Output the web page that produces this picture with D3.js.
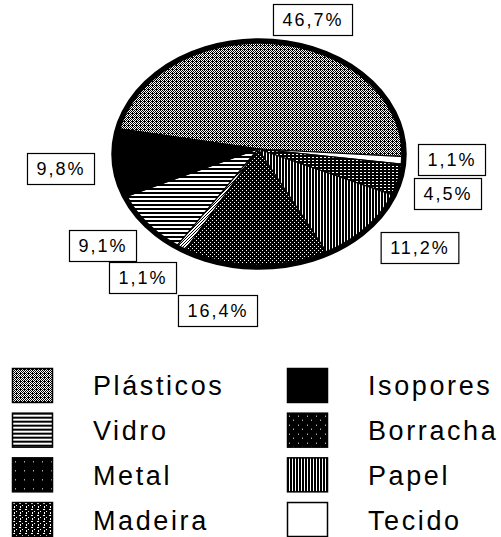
<!DOCTYPE html>
<html>
<head>
<meta charset="utf-8">
<script src="https://cdn.jsdelivr.net/npm/d3@7"></script>
<style>
  body { margin: 0; background: #fff; }
  text { font-family: "Liberation Sans", Arial, sans-serif; fill: #000; }
</style>
</head>
<body>
<svg id="chart" width="501" height="537"></svg>
<script>
// slices, clockwise from the left edge of the big top slice
var categories = ["Plásticos", "Tecido", "Metal", "Papel", "Borracha", "Madeira", "Vidro", "Isopores"];
var values = [46.7, 1.1, 4.5, 11.2, 16.4, 1.1, 9.1, 9.8];

// legend columns
var legendLeft = ["Plásticos", "Vidro", "Metal", "Madeira"];
var legendRight = ["Isopores", "Borracha", "Papel", "Tecido"];

// where each percentage box sits (centre), same order as categories
var labelPos = [[313, 20], [452, 160], [448, 194], [420, 248], [218, 311], [143, 278], [103, 246], [61, 169]];

var svg = d3.select("#chart");
var defs = svg.append("defs");

var cx = 259, cy = 154, rx = 145, ry = 113;
var apex = [258, 149];

// fill patterns (scanned b/w look)
function pattern(id, w, h, bg, fg, pix) {
    var p = defs.append("pattern")
        .attr("id", id)
        .attr("patternUnits", "userSpaceOnUse")
        .attr("width", w).attr("height", h);
    p.append("rect").attr("width", w).attr("height", h).attr("fill", bg);
    pix.forEach(function(d) {
        p.append("rect")
            .attr("x", d[0]).attr("y", d[1])
            .attr("width", d[2] || 1).attr("height", d[3] || 1)
            .attr("fill", fg);
    });
}
pattern("p-plasticos", 4, 4, "#fff", "#000", [[0,0],[2,0],[1,1],[3,1],[0,2],[2,2],[1,3],[3,3],[0,1]]);
pattern("p-vidro", 4, 4, "#fff", "#000", [[0,0,4,2]]);
pattern("p-papel", 3, 4, "#fff", "#000", [[0,0,2,4]]);
pattern("p-borracha", 4, 4, "#000", "#fff", [[0,0],[2,2]]);
pattern("p-metal", 4, 3, "#000", "#fff", [[0,1,2,1]]);
pattern("p-madeira", 3, 3, "#fff", "#000", [[0,0],[1,2],[2,1]]);
pattern("p-madeira-leg", 6, 6, "#000", "#fff", [[1,1,2,1],[4,3],[2,4,1,2]]);
pattern("p-metal-leg", 9, 9, "#000", "#fff", [[3,4]]);
pattern("p-borracha-leg", 9, 9, "#000", "#fff", [[2,3],[6,7]]);

var fills = {
    "Plásticos": "url(#p-plasticos)",
    "Vidro": "url(#p-vidro)",
    "Metal": "url(#p-metal)",
    "Madeira": "url(#p-madeira)",
    "Isopores": "#000",
    "Borracha": "url(#p-borracha)",
    "Papel": "url(#p-papel)",
    "Tecido": "#fff"
};
// legend swatches look darker than the slices
var legendFills = Object.assign({}, fills, {
    "Madeira": "url(#p-madeira-leg)",
    "Metal": "url(#p-metal-leg)",
    "Borracha": "url(#p-borracha-leg)"
});

var data = categories.map(function(c, i) { return { name: c, value: values[i], pos: labelPos[i] }; });

var start = -77 * Math.PI / 180;
var pie = d3.pie().sort(null).value(function(d) { return d.value; })
    .startAngle(start).endAngle(start + 2 * Math.PI);
var arcs = pie(data);

function pt(a) { return [cx + rx * Math.sin(a), cy - ry * Math.cos(a)]; }

function slicePath(d) {
    var p0 = pt(d.startAngle), p1 = pt(d.endAngle);
    var large = (d.endAngle - d.startAngle) > Math.PI ? 1 : 0;
    return "M" + apex[0] + "," + apex[1] +
        "L" + p0[0] + "," + p0[1] +
        "A" + rx + "," + ry + " 0 " + large + " 1 " + p1[0] + "," + p1[1] + "Z";
}

var pieG = svg.append("g");
pieG.selectAll(".slice")
    .data(arcs)
    .enter().append("path")
    .attr("class", "slice")
    .attr("d", slicePath)
    .attr("fill", function(d) { return fills[d.data.name]; })
    .attr("stroke", "#000")
    .attr("stroke-width", 1.2);

pieG.append("ellipse")
    .attr("cx", cx).attr("cy", cy)
    .attr("rx", rx).attr("ry", ry)
    .attr("fill", "none")
    .attr("stroke", "#000")
    .attr("stroke-width", 5.5);

// percentage boxes
var fmt = function(v) { return v.toFixed(1).replace(".", ",") + "%"; };
var lab = svg.selectAll(".lab")
    .data(data)
    .enter().append("g")
    .attr("class", "lab")
    .attr("transform", function(d) { return "translate(" + d.pos[0] + "," + d.pos[1] + ")"; });

lab.append("text")
    .attr("text-anchor", "middle")
    .attr("dy", "0.36em")
    .style("font-size", "18px")
    .style("letter-spacing", "2px")
    .text(function(d) { return fmt(d.value); });

lab.each(function() {
    var g = d3.select(this);
    var w = g.select("text").node().getComputedTextLength() + 18;
    g.insert("rect", "text")
        .attr("x", -w / 2).attr("y", -15.5)
        .attr("width", w).attr("height", 31)
        .attr("fill", "#fff")
        .attr("stroke", "#000")
        .attr("stroke-width", 1.2);
});

// legend
var legY = d3.scaleBand().domain(d3.range(4)).range([368, 537]).paddingInner(0.217);
function legendCol(items, x) {
    var g = svg.append("g").attr("transform", "translate(" + x + ",0)");
    var row = g.selectAll(".leg")
        .data(items)
        .enter().append("g")
        .attr("transform", function(d, i) { return "translate(0," + legY(i) + ")"; });
    row.append("rect")
        .attr("x", 0.5).attr("y", 0.5)
        .attr("width", 40).attr("height", legY.bandwidth() - 1)
        .attr("fill", function(d) { return legendFills[d]; })
        .attr("stroke", "#000")
        .attr("stroke-width", 1.5);
    row.append("text")
        .attr("x", 81)
        .attr("y", legY.bandwidth() / 2 + 10)
        .style("font-size", "27px")
        .style("letter-spacing", "2.6px")
        .text(function(d) { return d; });
}
legendCol(legendLeft, 12);
legendCol(legendRight, 287);
</script>
</body>
</html>
